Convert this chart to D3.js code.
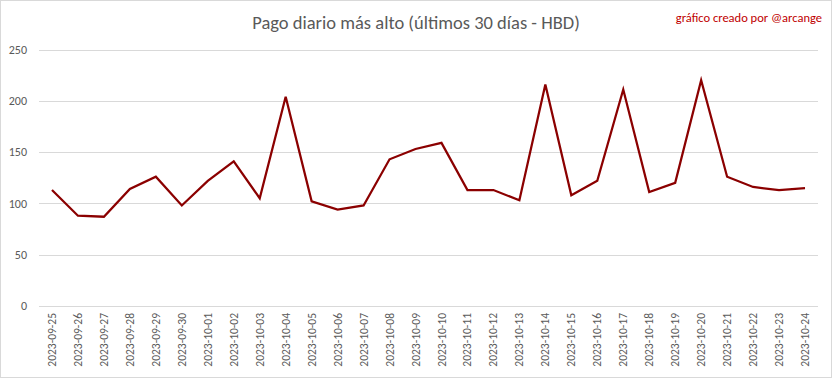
<!DOCTYPE html>
<html><head><meta charset="utf-8">
<script src="https://cdn.jsdelivr.net/npm/d3@7"></script>
<style>body{margin:0;background:#fff}svg{display:block}</style>
</head><body>
<script>
const dates = ["2023-09-25","2023-09-26","2023-09-27","2023-09-28","2023-09-29","2023-09-30","2023-10-01","2023-10-02","2023-10-03","2023-10-04","2023-10-05","2023-10-06","2023-10-07","2023-10-08","2023-10-09","2023-10-10","2023-10-11","2023-10-12","2023-10-13","2023-10-14","2023-10-15","2023-10-16","2023-10-17","2023-10-18","2023-10-19","2023-10-20","2023-10-21","2023-10-22","2023-10-23","2023-10-24"];
const values = [113,88,87,114,126,98,122,141,105,204,102,94,98,143,153,159,113,113,103,216,108,122,211,111,120,220,126,116,113,115];
const yTicks = [0,50,100,150,200,250];
const title = "Pago diario más alto (últimos 30 días - HBD)";
const credit = "gráfico creado por @arcange";

const W = 833, H = 379;
const svg = d3.select("body").append("svg").attr("width", W).attr("height", H);
svg.append("rect").attr("x",0.5).attr("y",0.5).attr("width",W-2).attr("height",H-2)
  .attr("fill","#fff").attr("stroke","#d9d9d9");

const font = "Carlito, Calibri, 'Liberation Sans Narrow', 'Open Sans', sans-serif";
const x = d3.scaleBand().domain(dates).range([39, 818]);
const y = d3.scaleLinear().domain([0, 250]).range([306, 49.5]);

const g = svg.append("g");
g.selectAll("line.grid").data(yTicks).join("line")
  .attr("x1", 39).attr("x2", 818)
  .attr("y1", d => Math.round(y(d)) + 0.5).attr("y2", d => Math.round(y(d)) + 0.5)
  .attr("stroke", "#d9d9d9").attr("stroke-width", 1);

const yAxis = svg.append("g").attr("transform", "translate(39,0)")
  .call(d3.axisLeft(y).tickValues(yTicks).tickSize(0).tickPadding(12));
yAxis.select(".domain").remove();
yAxis.selectAll("text").attr("fill", "#595959").style("font-family", font).style("font-size", "12px");

const xAxis = svg.append("g").attr("transform", "translate(0,306)")
  .call(d3.axisBottom(x).tickSize(0).tickPadding(0));
xAxis.select(".domain").remove();
xAxis.selectAll("text")
  .attr("fill", "#595959").style("font-family", font).style("font-size", "11.5px")
  .attr("text-anchor", "end").attr("dy", "0.35em")
  .attr("transform", "translate(0,7) rotate(-90)").attr("x", 0).attr("y", 0);

const line = d3.line().x((d, i) => x(dates[i]) + x.bandwidth() / 2).y(d => y(d));
svg.append("path").datum(values).attr("d", line)
  .attr("fill", "none").attr("stroke", "#8b0000").attr("stroke-width", 2.25)
  .attr("stroke-linejoin", "miter");

svg.append("text").attr("x", 416).attr("y", 29).attr("text-anchor", "middle")
  .attr("fill", "#595959").style("font-family", font).style("font-size", "18.5px").text(title);
svg.append("text").attr("x", 822).attr("y", 22).attr("text-anchor", "end")
  .attr("fill", "#c00000").style("font-family", font).style("font-size", "12.5px").text(credit);
</script>
</body></html>
